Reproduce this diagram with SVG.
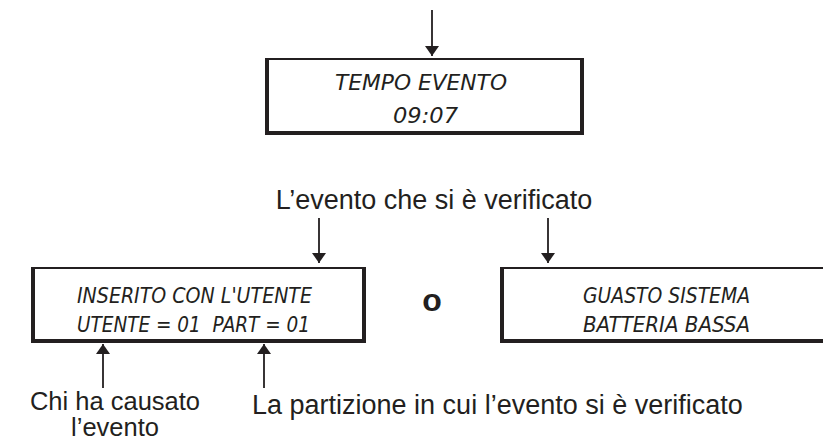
<svg xmlns="http://www.w3.org/2000/svg" width="823" height="441" viewBox="0 0 823 441">
<defs>
<marker id="ah" viewBox="0 0 10 14" refX="10" refY="7" markerWidth="10" markerHeight="14" markerUnits="userSpaceOnUse" orient="auto">
<path d="M0,0 L10,7 L0,14 Z" fill="#231f20"/>
</marker>
</defs>
<style>
.box{fill:#fff;stroke:#231f20;stroke-width:2}
.thick{stroke:#231f20;stroke-width:4;fill:none}
.lcd{font-family:"DejaVu Sans Condensed","DejaVu Sans",sans-serif;font-style:italic;font-stretch:condensed;font-size:21px;fill:#231f20}
.lbl{font-family:"Liberation Sans",Arial,sans-serif;font-size:27px;fill:#231f20}
.lbs{font-family:"Liberation Sans",Arial,sans-serif;font-size:25.5px;fill:#231f20}
.conn line{stroke:#231f20;stroke-width:1.8;marker-end:url(#ah)}
</style>
<rect width="823" height="441" fill="#fff"/>
<g id="box-tempo">
<rect class="box" x="267" y="59" width="315" height="73"/>
<path class="thick" d="M267,58 V133 H582 V58"/>
<text class="lcd" x="335" y="90" textLength="172" lengthAdjust="spacingAndGlyphs">TEMPO EVENTO</text>
<text class="lcd" x="393" y="123" textLength="65" lengthAdjust="spacingAndGlyphs">09:07</text>
</g>
<g id="box-inserito">
<rect class="box" x="33" y="268" width="331" height="72"/>
<path class="thick" d="M33,267 V341 H364 V267"/>
<text class="lcd" x="77" y="303" textLength="235" lengthAdjust="spacingAndGlyphs">INSERITO CON L'UTENTE</text>
<text class="lcd" x="77" y="332" textLength="233" lengthAdjust="spacingAndGlyphs" xml:space="preserve">UTENTE = 01  PART = 01</text>
</g>
<g id="box-guasto">
<rect class="box" x="502" y="268" width="340" height="72"/>
<path class="thick" d="M502,267 V341 H842"/>
<text class="lcd" x="583" y="303" textLength="167" lengthAdjust="spacingAndGlyphs">GUASTO SISTEMA</text>
<text class="lcd" x="583" y="332" textLength="167" lengthAdjust="spacingAndGlyphs">BATTERIA BASSA</text>
</g>
<g id="or-label">
<text x="432" y="311" text-anchor="middle" font-family="Liberation Sans, Arial, sans-serif" font-weight="bold" font-size="32" fill="#231f20">o</text>
</g>
<g id="labels">
<text class="lbl" x="434" y="209" text-anchor="middle">L’evento che si è verificato</text>
<text class="lbs" x="115" y="410" text-anchor="middle">Chi ha causato</text>
<text class="lbs" x="115" y="436" text-anchor="middle">l’evento</text>
<text class="lbl" x="252" y="414">La partizione in cui l’evento si è verificato</text>
</g>
<g class="conn" id="connectors">
<line x1="432" y1="10" x2="432" y2="56"/>
<line x1="319" y1="218" x2="319" y2="263"/>
<line x1="548" y1="218" x2="548" y2="263"/>
<line x1="103" y1="388" x2="103" y2="344"/>
<line x1="264" y1="388" x2="264" y2="344"/>
</g>
</svg>
